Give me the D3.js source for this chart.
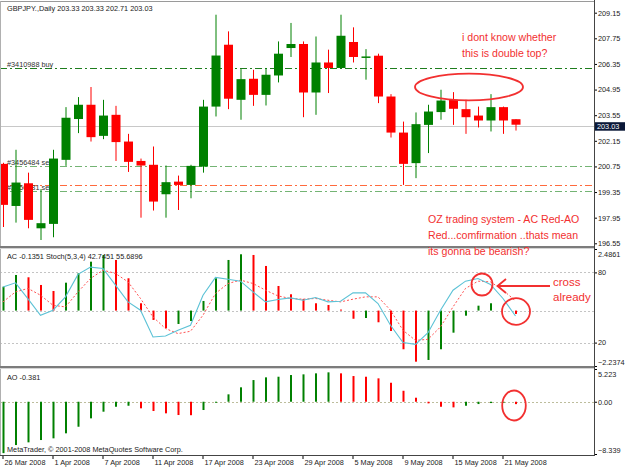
<!DOCTYPE html>
<html>
<head>
<meta charset="utf-8">
<script src="https://cdn.jsdelivr.net/npm/d3@7"></script>
<style>
body { margin: 0; background: #fff; }
svg { display: block; font-family: "Liberation Sans", Arial, sans-serif; }
</style>
</head>
<body>
<svg id="chart" width="625" height="469"></svg>
<script>
// trading days shown on the chart
const dates = [
    "26 Mar 2008", "27 Mar 2008", "28 Mar 2008", "31 Mar 2008",
    "1 Apr 2008", "2 Apr 2008", "3 Apr 2008", "4 Apr 2008",
    "7 Apr 2008", "8 Apr 2008", "9 Apr 2008", "10 Apr 2008", "11 Apr 2008",
    "14 Apr 2008", "15 Apr 2008", "16 Apr 2008", "17 Apr 2008", "18 Apr 2008",
    "21 Apr 2008", "22 Apr 2008", "23 Apr 2008", "24 Apr 2008", "25 Apr 2008",
    "28 Apr 2008", "29 Apr 2008", "30 Apr 2008", "1 May 2008", "2 May 2008",
    "5 May 2008", "6 May 2008", "7 May 2008", "8 May 2008", "9 May 2008",
    "12 May 2008", "13 May 2008", "14 May 2008", "15 May 2008", "16 May 2008",
    "19 May 2008", "20 May 2008", "21 May 2008", "22 May 2008"
];
const dateTicks = ["26 Mar 2008", "1 Apr 2008", "7 Apr 2008", "11 Apr 2008", "17 Apr 2008",
    "23 Apr 2008", "29 Apr 2008", "5 May 2008", "9 May 2008", "15 May 2008", "21 May 2008"];

const openP  = [200.89, 198.59, 199.83, 197.37, 197.61, 201.11, 203.34, 204.12, 202.42, 203.57,
                202.11, 201.05, 200.84, 199.23, 199.92, 199.74, 200.74, 204.02, 207.40, 204.39,
                205.54, 204.66, 205.72, 207.22, 207.44, 204.79, 206.43, 206.13, 207.55, 206.71,
                206.80, 204.57, 202.60, 200.93, 203.02, 203.72, 204.39, 203.88, 203.53, 203.26,
                203.99, 203.33];
const highP  = [200.95, 201.66, 200.41, 199.51, 201.66, 203.99, 204.54, 205.09, 204.39, 204.06,
                202.53, 201.18, 201.84, 200.80, 200.25, 200.84, 204.39, 209.04, 208.13, 206.07,
                206.03, 206.13, 207.58, 208.59, 207.58, 207.85, 207.13, 209.04, 208.35, 207.16,
                206.91, 204.70, 203.20, 203.70, 204.12, 204.94, 204.81, 204.39, 204.02, 204.70,
                204.02, 203.33];
const lowP   = [197.44, 197.68, 197.37, 196.73, 196.88, 200.78, 202.57, 202.11, 202.24, 201.05,
                200.45, 197.95, 198.34, 197.95, 198.37, 199.01, 200.41, 203.48, 203.88, 203.30,
                204.06, 204.08, 205.34, 206.73, 203.44, 203.57, 204.76, 206.10, 206.43, 205.49,
                204.21, 202.33, 199.74, 200.11, 201.48, 203.30, 203.02, 202.53, 202.88, 202.66,
                202.53, 202.71];
const closeP = [198.65, 199.87, 197.83, 197.65, 201.18, 203.41, 204.12, 202.35, 203.53, 202.08,
                201.00, 200.80, 198.83, 199.89, 199.74, 200.78, 204.02, 206.81, 204.45, 205.52,
                204.66, 205.76, 206.91, 207.44, 204.79, 206.43, 206.13, 207.89, 206.73, 206.76,
                204.57, 202.60, 200.89, 203.06, 203.75, 204.35, 203.90, 203.44, 203.26, 203.99,
                203.26, 203.03];
const priceTicks = [209.15, 207.75, 206.35, 204.95, 203.55, 202.15, 200.75, 199.35, 197.95, 196.55];
const lastPrice = 203.03;

const orderLabels = ["#3410988 buy", "", "#3456484 sell", "#3456481 sell"];
const orderPrices = [206.12, 199.73, 200.79, 199.41];

// Accelerator oscillator
const acValues = [0.965, 1.437, 1.344, 1.034, 0.791, 1.126, 1.506, 1.974, 2.245, 2.043,
                  1.304, 0.295, -0.379, -0.715, -0.541, -0.420, 0.388, 1.304, 2.043, 2.273,
                  2.245, 1.801, 0.993, 0.658, 0.470, 0.295, 0.226, 0.040, -0.330, -0.300,
                  -0.472, -0.824, -1.562, -2.063, -1.994, -1.562, -0.892, -0.206, 0.198, 0.295,
                  0.000, -0.1351];
const acRange = [-2.2374, 2.4861];

// Stochastic (5,3,4)
const stochMain = [67.6, 71.1, 57.3, 43.4, 47.7, 59.1, 78.3, 84.5, 83.4, 69.1,
                   54.8, 47.7, 24.8, 25.6, 30.5, 34.8, 60.5, 75.7, 74.2, 72.5,
                   63.3, 54.8, 56.8, 58.2, 56.2, 58.5, 54.8, 55.4, 62.5, 62.5,
                   53.4, 34.8, 20.0, 18.5, 28.5, 47.7, 64.8, 72.5, 74.8, 69.7,
                   57.7, 42.7451];
const stochSignal = [54.8, 63.3, 66.3, 60.5, 51.9, 50.5, 63.3, 74.8, 81.9, 79.1,
                     71.9, 57.7, 41.9, 32.0, 27.7, 29.7, 43.4, 62.0, 70.5, 73.4,
                     70.5, 64.8, 59.9, 57.7, 57.1, 57.7, 56.2, 54.8, 57.1, 59.1,
                     59.1, 47.7, 30.5, 21.9, 22.8, 33.4, 50.5, 66.3, 72.5, 71.9,
                     64.8, 55.6896];
const stochLevels = [80, 20];

// Awesome oscillator
const aoValues = [-8.2, -6.91, -6.48, -6.11, -5.84, -5.04, -3.99, -2.65, -1.59, -0.80,
                  -0.64, -1.05, -1.48, -1.85, -2.12, -2.15, -1.32, -0.10, 1.18, 2.30,
                  3.46, 3.89, 3.99, 4.26, 4.37, 4.53, 4.69, 4.53, 4.10, 3.99,
                  3.73, 3.03, 1.75, 0.64, -0.26, -0.80, -0.90, -0.64, -0.37, -0.21,
                  -0.08, -0.381];
const aoRange = [-8.339, 5.223];

const GREEN = "#008000", RED = "#ff0000", NOTE = "#f23030";
const plotRight = 594;

const svg = d3.select("#chart");

const x = d3.scalePoint()
    .domain(dates)
    .range([3, 3 + 12.5 * (dates.length - 1)]);

const yPrice = d3.scaleLinear().domain([196.55, 209.15]).range([243.3, 12.7]);
const yAC = d3.scaleLinear().domain(acRange).range([366, 249]);
const yStoch = d3.scaleLinear().domain([0, 100]).range([366, 249]);
const yAO = d3.scaleLinear().domain(aoRange).range([454, 369]);

// ---------- main price window ----------
const main = svg.append("g");

main.append("line")
    .attr("x1", 0).attr("x2", plotRight)
    .attr("y1", Math.round(yPrice(lastPrice)) + 1.5).attr("y2", Math.round(yPrice(lastPrice)) + 1.5)
    .attr("stroke", "#c8c8c8");

const orderColors = ["#1e7d1e", "#ff6a3d", "#74b474", "#74b474"];
orderPrices.forEach((p, i) => {
    const yy = Math.round(yPrice(p)) + 0.5;
    main.append("line")
        .attr("x1", 0).attr("x2", plotRight)
        .attr("y1", yy).attr("y2", yy)
        .attr("stroke", orderColors[i])
        .attr("stroke-dasharray", "7,3,2,3");
    if (orderLabels[i]) {
        main.append("text")
            .attr("x", 7).attr("y", yy - 2)
            .attr("font-size", 7.3)
            .attr("fill", "#333")
            .text(orderLabels[i]);
    }
});

const candles = main.append("g")
    .selectAll("g")
    .data(dates.map((d, i) => ({ d, o: openP[i], h: highP[i], l: lowP[i], c: closeP[i] })))
    .enter().append("g")
    .attr("stroke", d => d.c >= d.o ? GREEN : RED)
    .attr("fill", d => d.c >= d.o ? GREEN : RED);

candles.append("line")
    .attr("x1", d => x(d.d) + 0.5).attr("x2", d => x(d.d) + 0.5)
    .attr("y1", d => yPrice(d.h)).attr("y2", d => yPrice(d.l));

candles.append("rect")
    .attr("stroke", "none")
    .attr("x", d => x(d.d) - 4)
    .attr("width", 9)
    .attr("y", d => yPrice(Math.max(d.o, d.c)))
    .attr("height", d => Math.max(1.5, Math.abs(yPrice(d.o) - yPrice(d.c))));

main.append("text")
    .attr("x", 7).attr("y", 10.5)
    .attr("font-size", 7.3).attr("fill", "#222")
    .text("GBPJPY.,Daily  203.33 203.33 202.71 203.03");

const priceAxis = main.append("g")
    .attr("transform", `translate(${plotRight},0)`)
    .call(d3.axisRight(yPrice).tickValues(priceTicks).tickSize(3).tickPadding(1)
        .tickFormat(d3.format(".2f")));
priceAxis.select(".domain").remove();
priceAxis.selectAll("text").attr("font-size", 7.3).attr("fill", "#222");

// last price box
const yl = yPrice(lastPrice) + 1;
main.append("rect")
    .attr("x", plotRight).attr("y", yl - 3.5)
    .attr("width", 31).attr("height", 8.5)
    .attr("fill", "#0b1838");
main.append("text")
    .attr("x", plotRight + 3).attr("y", yl + 3.2)
    .attr("font-size", 7.3).attr("fill", "#fff")
    .text(lastPrice.toFixed(2));

// ---------- AC + Stochastic window ----------
const acWin = svg.append("g");

[yAC(0)].concat(stochLevels.map(yStoch)).forEach(yy => {
    acWin.append("line")
        .attr("x1", 0).attr("x2", plotRight)
        .attr("y1", Math.round(yy) + 0.5).attr("y2", Math.round(yy) + 0.5)
        .attr("stroke", "#c4c4c4").attr("stroke-dasharray", "2,2");
});

acWin.append("g")
    .selectAll("rect")
    .data(acValues)
    .enter().append("rect")
    .attr("x", (d, i) => x(dates[i]) - 0.5)
    .attr("width", 2)
    .attr("y", d => yAC(Math.max(0, d)))
    .attr("height", d => Math.abs(yAC(d) - yAC(0)))
    .attr("fill", (d, i) => i === 0 || d >= acValues[i - 1] ? GREEN : RED);

const stochLine = d3.line()
    .x((d, i) => x(dates[i]))
    .y(d => yStoch(d));

acWin.append("path")
    .datum(stochSignal)
    .attr("d", stochLine)
    .attr("fill", "none")
    .attr("stroke", "#ff5050")
    .attr("stroke-dasharray", "2,2");

acWin.append("path")
    .datum(stochMain)
    .attr("d", stochLine)
    .attr("fill", "none")
    .attr("stroke", "#5cc2d6")
    .attr("stroke-width", 1.1);

acWin.append("text")
    .attr("x", 7).attr("y", 259)
    .attr("font-size", 7.3).attr("fill", "#222")
    .text("AC -0.1351  Stoch(5,3,4) 42.7451 55.6896");

const acAxis = acWin.append("g")
    .attr("transform", `translate(${plotRight},0)`)
    .call(d3.axisRight(yAC).tickValues(acRange.slice().reverse()).tickSize(3).tickPadding(1)
        .tickFormat(d3.format(".4f")));
acAxis.select(".domain").remove();
acAxis.selectAll("text").attr("font-size", 7.3).attr("fill", "#222")
    .attr("dy", d => d > 0 ? "1.05em" : "-0.25em");

const stAxis = acWin.append("g")
    .attr("transform", `translate(${plotRight},0)`)
    .call(d3.axisRight(yStoch).tickValues(stochLevels).tickSize(3).tickPadding(1));
stAxis.select(".domain").remove();
stAxis.selectAll("text").attr("font-size", 7.3).attr("fill", "#222");

// ---------- AO window ----------
const aoWin = svg.append("g");

aoWin.append("line")
    .attr("x1", 0).attr("x2", plotRight)
    .attr("y1", Math.round(yAO(0)) + 0.5).attr("y2", Math.round(yAO(0)) + 0.5)
    .attr("stroke", "#bdbd9c").attr("stroke-dasharray", "2,2");

aoWin.append("g")
    .selectAll("rect")
    .data(aoValues)
    .enter().append("rect")
    .attr("x", (d, i) => x(dates[i]) - 0.5)
    .attr("width", 2)
    .attr("y", d => yAO(Math.max(0, d)))
    .attr("height", d => Math.max(1, Math.abs(yAO(d) - yAO(0))))
    .attr("fill", (d, i) => i === 0 || d >= aoValues[i - 1] ? GREEN : RED);

aoWin.append("text")
    .attr("x", 7).attr("y", 379.5)
    .attr("font-size", 7.3).attr("fill", "#222")
    .text("AO -0.381");

aoWin.append("text")
    .attr("x", 7).attr("y", 452)
    .attr("font-size", 7.3).attr("fill", "#222")
    .text("MetaTrader, \u00a9 2001-2008 MetaQuotes Software Corp.");

const aoAxis = aoWin.append("g")
    .attr("transform", `translate(${plotRight},0)`)
    .call(d3.axisRight(yAO).tickValues([aoRange[1], 0, aoRange[0]]).tickSize(3).tickPadding(1)
        .tickFormat(d => d === 0 ? "0.00" : d3.format(".3f")(d)));
aoAxis.select(".domain").remove();
aoAxis.selectAll("text").attr("font-size", 7.3).attr("fill", "#222")
    .attr("dy", d => d > 0 ? "1.05em" : d < 0 ? "-0.2em" : "0.32em");

// ---------- date axis ----------
const dateAxis = svg.append("g")
    .attr("transform", "translate(0,455)")
    .call(d3.axisBottom(x).tickValues(dateTicks).tickSize(4).tickPadding(1));
dateAxis.select(".domain").remove();
dateAxis.selectAll("line").attr("transform", "translate(-0.5,0)");
dateAxis.selectAll("text")
    .attr("text-anchor", "start")
    .attr("x", 1)
    .attr("font-size", 7.3).attr("fill", "#222");

// ---------- window frames ----------
const frame = svg.append("g");
frame.append("line").attr("x1", 0).attr("x2", plotRight).attr("y1", 1.5).attr("y2", 1.5).attr("stroke", "#9a9a9a");
frame.append("line").attr("x1", 0.5).attr("x2", 0.5).attr("y1", 1).attr("y2", 455).attr("stroke", "#b0b0b0");
[246, 366].forEach(yy => {
    frame.append("rect").attr("x", 0).attr("y", yy).attr("width", plotRight).attr("height", 2).attr("fill", "#7c7c7c");
    frame.append("line").attr("x1", 0).attr("x2", plotRight).attr("y1", yy + 2.5).attr("y2", yy + 2.5).attr("stroke", "#d4d4d4");
});
frame.append("line").attr("x1", plotRight + 0.5).attr("x2", plotRight + 0.5).attr("y1", 0).attr("y2", 455).attr("stroke", "#444");
frame.append("line").attr("x1", 0).attr("x2", plotRight + 1).attr("y1", 455.5).attr("y2", 455.5).attr("stroke", "#444");

// ---------- annotations ----------
const notes = svg.append("g").attr("fill", NOTE).attr("font-size", 10.6);
notes.append("text").attr("x", 462).attr("y", 41).text("i dont know whether");
notes.append("text").attr("x", 462).attr("y", 57).text("this is double top?");
notes.append("text").attr("x", 428).attr("y", 223).text("OZ trading system - AC Red-AO");
notes.append("text").attr("x", 428).attr("y", 238.5).text("Red...comfirmation ..thats mean");
notes.append("text").attr("x", 428).attr("y", 254.5).text("its gonna be bearish?");
notes.append("text").attr("x", 553).attr("y", 286).attr("font-size", 11.5).text("cross");
notes.append("text").attr("x", 553).attr("y", 301).attr("font-size", 11.5).text("already");

const shapes = svg.append("g").attr("fill", "none").attr("stroke", NOTE).attr("stroke-width", 1.8);
shapes.append("ellipse").attr("cx", 469).attr("cy", 87).attr("rx", 54).attr("ry", 13.3);
shapes.append("ellipse").attr("cx", 482).attr("cy", 284.5).attr("rx", 10.5).attr("ry", 11);
shapes.append("ellipse").attr("cx", 516).attr("cy", 311.5).attr("rx", 14).attr("ry", 13.3);
shapes.append("ellipse").attr("cx", 514).attr("cy", 405.5).attr("rx", 11.8).attr("ry", 15);
shapes.append("path").attr("d", "M550,286 L498,286 M506,279 L497.5,286 L506,293");
</script>
</body>
</html>
